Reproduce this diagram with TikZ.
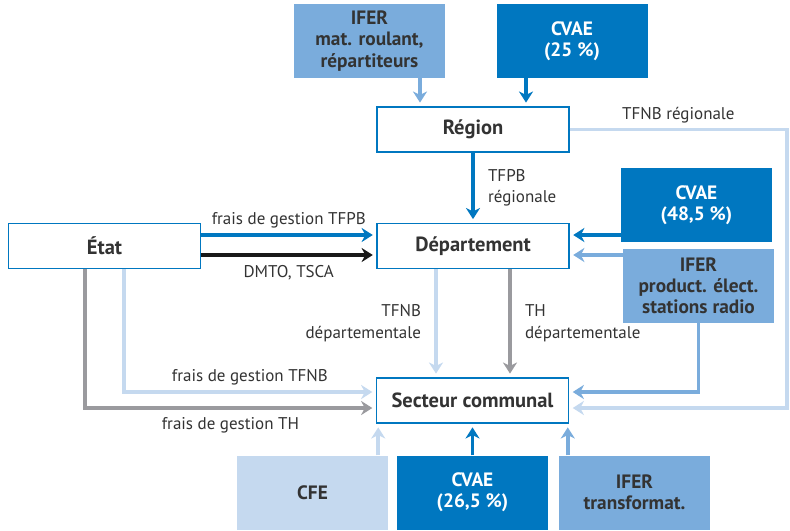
\documentclass[tikz,border=0pt]{standalone}
\usepackage{fontspec}
\setmainfont{PT Sans}
\usetikzlibrary{arrows.meta,positioning}
\definecolor{dblue}{HTML}{0077C0}
\definecolor{mblue}{HTML}{7AACDC}
\definecolor{lblue}{HTML}{C5D9EF}
\definecolor{fgray}{HTML}{9A9A9E}
\definecolor{ink}{HTML}{333333}
\begin{document}
\begin{tikzpicture}[x=0.03cm,y=-0.03cm,>={Stealth[length=9.5pt,width=12pt,inset=3pt]},
  font=\fontsize{14.5}{18.5}\selectfont,
  src/.style={minimum width=4.53cm,minimum height=2.22cm,align=center,text=ink,font=\fontsize{16.5}{18}\selectfont\bfseries,inner sep=2pt},
  hub/.style={draw=dblue,line width=1.2pt,fill=white,text=ink,minimum width=5.76cm,minimum height=1.36cm,font=\fontsize{17.5}{20}\selectfont\bfseries},
  lbl/.style={text=ink},
  flow/.style={line width=3pt,->,shorten >=3pt}]
\useasboundingbox (0,0) rectangle (790,530);
% sources du haut
\node[src,fill=mblue] (ifer1) at (369.5,41) {IFER\\mat. roulant,\\répartiteurs};
\node[src,fill=dblue,text=white] (cvae1) at (572,41) {CVAE\\(25 \%)};
% collectivités
\node[hub] (reg) at (473,129.5) {Région};
\node[hub] (dep) at (473,246) {Département};
\node[hub] (etat) at (104.5,246) {État};
\node[hub] (sec) at (472.5,400.5) {Secteur communal};
% sources de droite
\node[src,fill=dblue,text=white] (cvae2) at (696.5,205) {CVAE\\(48,5 \%)};
\node[src,fill=mblue] (ifer2) at (698.5,285.5) {IFER\\product. élect.\\stations radio};
% sources du bas
\node[src,fill=lblue] (cfe) at (312.5,492.5) {CFE};
\node[src,fill=dblue,text=white] (cvae3) at (472.5,492.5) {CVAE\\(26,5 \%)};
\node[src,fill=mblue] (ifer3) at (634.5,492.5) {IFER\\transformat.};
\coordinate (tr) at (787,0);
% flux vers la région
\draw[flow,mblue] ([xshift=1.515cm]ifer1.south) -- ([xshift=1.515cm]ifer1.south |- reg.north);
\draw[flow,dblue] ([xshift=-1.38cm]cvae1.south) -- ([xshift=-1.38cm]cvae1.south |- reg.north);
\draw[flow,lblue] (reg.east) -- (reg.east -| tr) node[lbl,midway,above=1pt] {TFNB régionale}
  |- ([yshift=-0.225cm]sec.east);
% flux vers le département
\draw[flow,dblue] (reg.south) -- (dep.north) node[lbl,midway,right=8pt,align=left] {TFPB\\régionale};
\draw[flow,dblue] ([yshift=0.33cm]etat.east) -- ([yshift=0.33cm]etat.east -| dep.west)
  node[lbl,midway,above=1pt] {frais de gestion TFPB};
\draw[flow,black!90] ([yshift=-0.27cm]etat.east) -- ([yshift=-0.27cm]etat.east -| dep.west)
  node[lbl,midway,below=4pt] {DMTO, TSCA};
\draw[flow,dblue] ([yshift=-0.9cm]cvae2.west) -- ([yshift=-0.9cm]cvae2.west -| dep.east);
\draw[flow,mblue] ([yshift=0.915cm]ifer2.west) -- ([yshift=0.915cm]ifer2.west -| dep.east);
% flux vers le secteur communal
\draw[flow,lblue] ([xshift=-1.11cm]dep.south) -- ([xshift=-1.11cm]dep.south |- sec.north)
  node[lbl,midway,left=8pt,align=right] {TFNB\\départementale};
\draw[flow,fgray] ([xshift=1.11cm]dep.south) -- ([xshift=1.11cm]dep.south |- sec.north)
  node[lbl,midway,right=8pt,align=left] {TH\\départementale};
\draw[flow,lblue] ([xshift=0.585cm]etat.south) |- ([yshift=0.255cm]sec.west)
  node[lbl,pos=0.75,above=1pt] {frais de gestion TFNB};
\draw[flow,fgray] ([xshift=-0.585cm]etat.south) |- ([yshift=-0.225cm]sec.west)
  node[lbl,pos=0.75,below=3pt] {frais de gestion TH};
\draw[flow,mblue] (ifer2.south) |- ([yshift=0.255cm]sec.east);
\draw[flow,lblue] ([xshift=-0.3cm]cfe.north east) -- ([xshift=-0.3cm]cfe.north east |- sec.south);
\draw[flow,dblue] (cvae3.north) -- (sec.south);
\draw[flow,mblue] ([xshift=0.27cm]ifer3.north west) -- ([xshift=0.27cm]ifer3.north west |- sec.south);
\end{tikzpicture}
\end{document}
